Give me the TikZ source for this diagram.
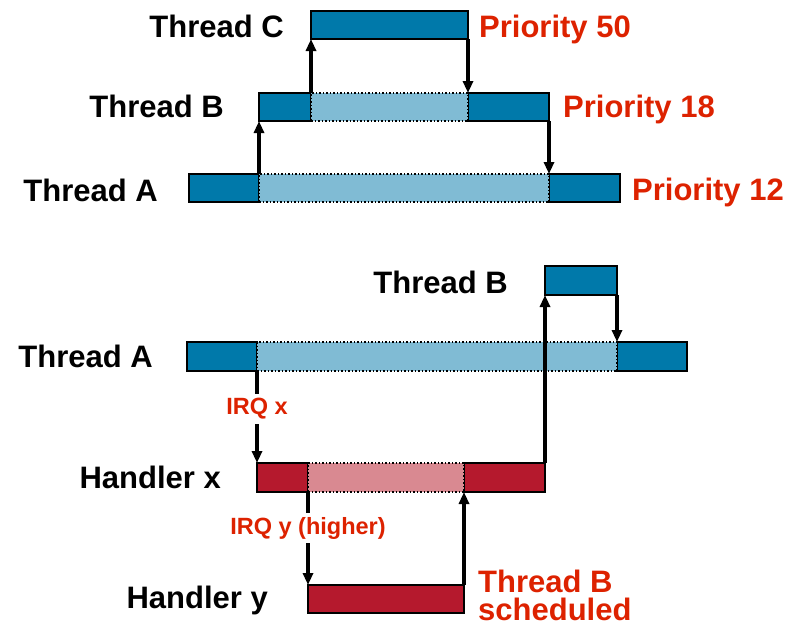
\documentclass[tikz,border=0pt]{standalone}
\usepackage{fontspec}
\setmainfont{Liberation Sans}
\usetikzlibrary{arrows.meta}

\definecolor{blueD}{RGB}{0,121,170}
\definecolor{blueL}{RGB}{128,187,212}
\definecolor{redD}{RGB}{181,25,45}
\definecolor{redL}{RGB}{217,137,145}
\definecolor{txtred}{RGB}{221,34,0}

\tikzset{
  seg/.style={draw=black, line width=1.5pt, fill=#1, inner sep=0pt,
    outer sep=0pt, anchor=north west, minimum height=28pt},
  idle/.style={seg=#1, dash pattern=on 1.5pt off 2pt},
  arr/.style={draw=black, line width=3.4pt, -{Triangle[length=12pt,width=10pt]}},
  rowlabel/.style={font=\bfseries\fontsize{31}{37}\selectfont, inner sep=0pt, anchor=base east},
  prio/.style={font=\bfseries\fontsize{31}{37}\selectfont, text=txtred, inner sep=0pt, anchor=base west},
  irq/.style={font=\bfseries\fontsize{23.5}{28}\selectfont, text=txtred, fill=white,
    inner xsep=1pt, inner ysep=4pt, text height=17pt, text depth=5pt},
}

\begin{document}
\begin{tikzpicture}[x=1pt,y=-1pt]
\useasboundingbox (0,0) rectangle (807,621);

% ---- priority inheritance of threads ----
\node[seg=blueD, minimum width=157pt] (C) at (311,11) {};
\node[seg=blueD, minimum width=52pt] (B1) at (259,93) {};
\node[seg=blueD, minimum width=81pt] (B2) at (468,93) {};
\node[idle=blueL, minimum width=157pt] (Bw) at (311,93) {};
\node[seg=blueD, minimum width=70pt] (A1) at (189,174) {};
\node[seg=blueD, minimum width=71pt] (A2) at (549,174) {};
\node[idle=blueL, minimum width=290pt] (Aw) at (259,174) {};

\draw[arr] (A1.north east) -- (B1.south west);
\draw[arr] (B1.north east) -- (C.south west);
\draw[arr] (C.south east) -- (B2.north west);
\draw[arr] (B2.south east) -- (A2.north west);

\node[rowlabel] (lC) at (284,37) {Thread C};
\node[rowlabel] (lB) at (224,117) {Thread B};
\node[rowlabel] (lA) at (158,201) {Thread A};
\node[prio] (p50) at (479,37) {Priority 50};
\node[prio] (p18) at (563,117) {Priority 18};
\node[prio] (p12) at (632,200) {Priority 12};

% ---- nested interrupts ----
\node[seg=blueD, minimum width=72pt, minimum height=29pt] (tB) at (545,266) {};
\node[seg=blueD, minimum width=70pt, minimum height=29pt] (tA1) at (187,342) {};
\node[seg=blueD, minimum width=70pt, minimum height=29pt] (tA2) at (617,342) {};
\node[idle=blueL, minimum width=360pt, minimum height=29pt] (tAw) at (257,342) {};
\node[seg=redD, minimum width=51pt, minimum height=29pt] (hX1) at (257,463) {};
\node[seg=redD, minimum width=81pt, minimum height=29pt] (hX2) at (464,463) {};
\node[idle=redL, minimum width=156pt, minimum height=29pt] (hXw) at (308,463) {};
\node[seg=redD, minimum width=156pt, minimum height=28pt] (hY) at (308,585) {};

\draw[arr] (tA1.south east) -- node[irq, pos=0.41] (irqx) {IRQ x} (hX1.north west);
\draw[arr] (hX1.south east) -- node[irq, pos=0.39] (irqy) {IRQ y (higher)} (hY.north west);
\draw[arr] (hY.north east) -- (hXw.south east);
\draw[arr] (hX2.north east) -- (tB.south west);
\draw[arr] (tB.south east) -- (tA2.north west);

\node[rowlabel] (ltB) at (508,293) {Thread B};
\node[rowlabel] (ltA) at (153,367) {Thread A};
\node[rowlabel] (lhX) at (221,488) {Handler x};
\node[rowlabel] (lhY) at (268,608) {Handler y};
\node[font=\bfseries\fontsize{31}{28}\selectfont, text=txtred, inner sep=0pt,
  anchor=north west, align=left] (sched) at (478,569.5) {Thread B\\scheduled};
\end{tikzpicture}
\end{document}
